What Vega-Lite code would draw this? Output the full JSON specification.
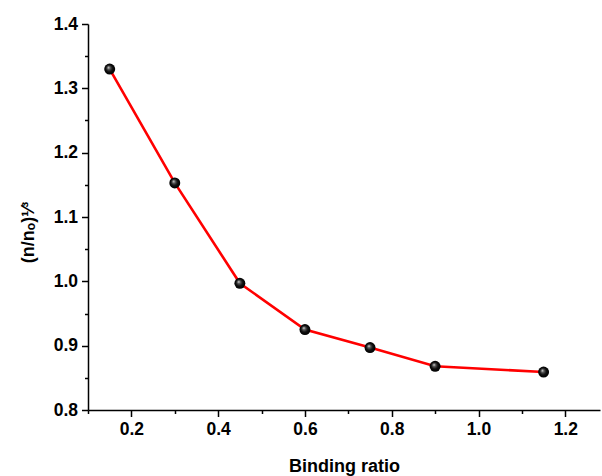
{
  "$schema": "https://vega.github.io/schema/vega-lite/v6.json",
  "width": 512,
  "height": 386,
  "autosize": {"type": "none"},
  "padding": {"left": 88, "top": 24, "right": 2, "bottom": 66},
  "background": "white",
  "config": {
    "view": {"stroke": null},
    "font": "Liberation Sans",
    "axis": {
      "grid": false,
      "domainColor": "black",
      "domainWidth": 1.5,
      "tickColor": "black",
      "tickWidth": 1.5,
      "labelFont": "Liberation Sans",
      "labelFontWeight": "bold",
      "labelFontSize": 17.5,
      "labelColor": "black",
      "titleFont": "Liberation Sans",
      "titleFontWeight": "bold",
      "titleFontSize": 18,
      "titleColor": "black"
    }
  },
  "data": {
    "values": [
      {"ratio": 0.15, "value": 1.33},
      {"ratio": 0.3, "value": 1.153},
      {"ratio": 0.45, "value": 0.997},
      {"ratio": 0.6, "value": 0.925},
      {"ratio": 0.75, "value": 0.897},
      {"ratio": 0.9, "value": 0.868},
      {"ratio": 1.15, "value": 0.859}
    ]
  },
  "encoding": {
    "x": {
      "field": "ratio",
      "type": "quantitative",
      "scale": {"domain": [0.1, 1.28], "nice": false, "zero": false},
      "axis": {
        "title": "Binding ratio",
        "values": [0.1, 0.2, 0.3, 0.4, 0.5, 0.6, 0.7, 0.8, 0.9, 1.0, 1.1, 1.2],
        "labelExpr": "round(datum.value*10) % 2 == 1 ? '' : format(datum.value, '.1f')",
        "tickSize": {"condition": {"test": "round(datum.value*10) % 2 == 1", "value": 3.5}, "value": 6.5},
        "labelPadding": 4,
        "titlePadding": 19,
        "labelFlush": false
      }
    },
    "y": {
      "field": "value",
      "type": "quantitative",
      "scale": {"domain": [0.8, 1.4], "nice": false, "zero": false},
      "axis": {
        "title": "(n/nₒ)¹⁄³",
        "titleY": 208,
        "values": [0.8, 0.85, 0.9, 0.95, 1.0, 1.05, 1.1, 1.15, 1.2, 1.25, 1.3, 1.35, 1.4],
        "labelExpr": "round(datum.value*100) % 10 != 0 ? '' : format(datum.value, '.1f')",
        "tickSize": {"condition": {"test": "round(datum.value*100) % 10 != 0", "value": 3.5}, "value": 6.5},
        "labelPadding": 4,
        "titlePadding": 16,
        "labelFlush": false
      }
    }
  },
  "layer": [
    {"mark": {"type": "line", "color": "#ff0000", "strokeWidth": 2.6}},
    {
      "mark": {
        "type": "point",
        "filled": true,
        "size": 120,
        "opacity": 1,
        "fill": {
          "gradient": "radial",
          "x1": 0.38, "y1": 0.35, "r1": 0,
          "x2": 0.5, "y2": 0.5, "r2": 0.5,
          "stops": [
            {"offset": 0, "color": "#ffffff"},
            {"offset": 0.25, "color": "#606060"},
            {"offset": 0.6, "color": "#101010"},
            {"offset": 1, "color": "#000000"}
          ]
        }
      }
    }
  ]
}
